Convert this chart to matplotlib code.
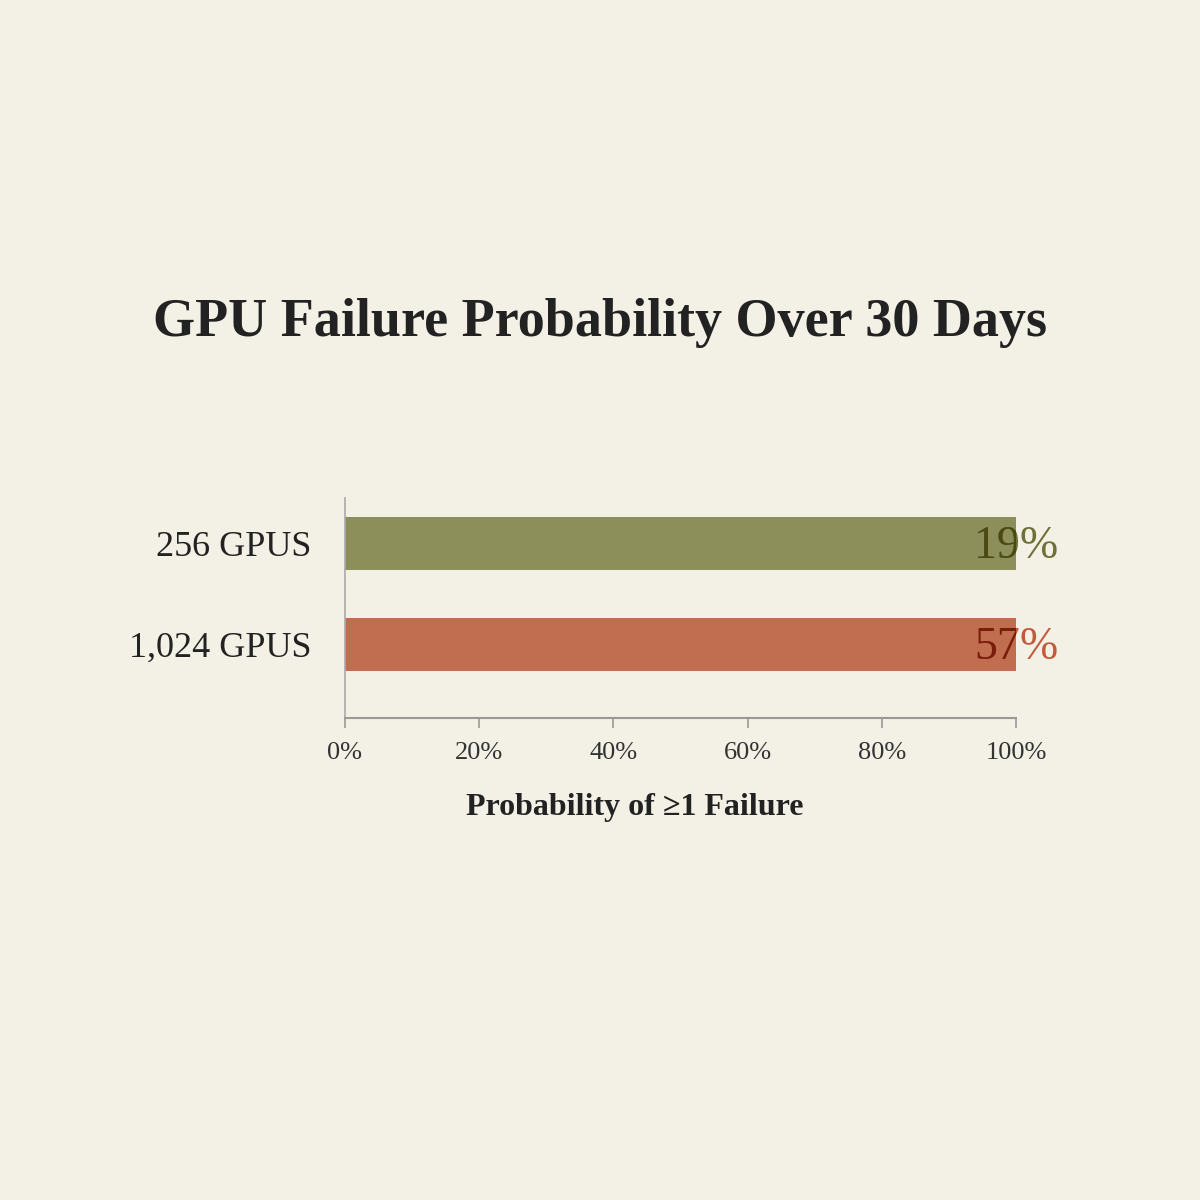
import matplotlib
matplotlib.use("Agg")
import matplotlib.pyplot as plt
from matplotlib.ticker import FuncFormatter
from matplotlib.transforms import Bbox, TransformedBbox

plt.rcParams['font.family'] = ['Liberation Serif', 'DejaVu Serif']

# data
groups = ['256 GPUS', '1,024 GPUS']
fail_prob = [19, 57]          # % chance of at least one failure
bar_extent = [100, 100]       # bars run the full scale in the picture
colors = ['#8a8c56', '#c0694a']
label_light = ['#6f7035', '#c45a3c']
label_dark = ['#4a4a14', '#7a1e0c']
xticks = [0, 20, 40, 60, 80, 100]

bg = '#f3f0e6'
fig = plt.figure(figsize=(12, 12), dpi=100, facecolor=bg)
ax = fig.add_axes([0.2875, 0.4017, 0.5592, 0.1833], facecolor=bg)

ypos = list(range(len(groups)))
bars = ax.barh(ypos, bar_extent, height=0.52, color=colors, alpha=0.97)

for i, b in enumerate(bars):
    x = b.get_width()
    y = b.get_y() + b.get_height() / 2 + 0.03
    ax.text(x, y, f'{fail_prob[i]}%', ha='center', va='center',
            fontsize=33, color=label_light[i], clip_on=False)
    # darker part of the label where it sits on the bar
    t = ax.text(x, y, f'{fail_prob[i]}%', ha='center', va='center',
                fontsize=33, color=label_dark[i])
    box = Bbox.from_extents(b.get_x(), b.get_y(), b.get_x() + b.get_width(),
                            b.get_y() + b.get_height())
    t.set_clip_path(None)
    t.set_clip_box(TransformedBbox(box, ax.transData))
    t.set_clip_on(True)

ax.set_xlim(0, 100)
ax.set_ylim(1.73, -0.45)
ax.set_yticks(ypos)
ax.set_yticklabels(groups, fontsize=26, color='#222222')
ax.tick_params(axis='y', length=0, pad=24)
ax.set_xticks(xticks)
ax.xaxis.set_major_formatter(FuncFormatter(lambda v, p: f'{v:.0f}%'))
ax.tick_params(axis='x', length=7, width=1.2, color='#999999',
               labelsize=19, labelcolor='#333333', pad=10)

for s in ['top', 'right']:
    ax.spines[s].set_visible(False)
ax.spines['left'].set_color('#aaaaaa')
ax.spines['left'].set_linewidth(1.2)
ax.spines['bottom'].set_color('#999999')
ax.spines['bottom'].set_linewidth(1.5)

fig.text(0.5, 1 - 323 / 1200, 'GPU Failure Probability Over 30 Days',
         ha='center', va='center', fontsize=39, fontweight='bold', color='#222222')
fig.text(635 / 1200, 1 - 808 / 1200, 'Probability of \u22651 Failure',
         ha='center', va='center', fontsize=23, fontweight='bold', color='#222222')

fig.savefig('out.png', dpi=100, facecolor=bg)
